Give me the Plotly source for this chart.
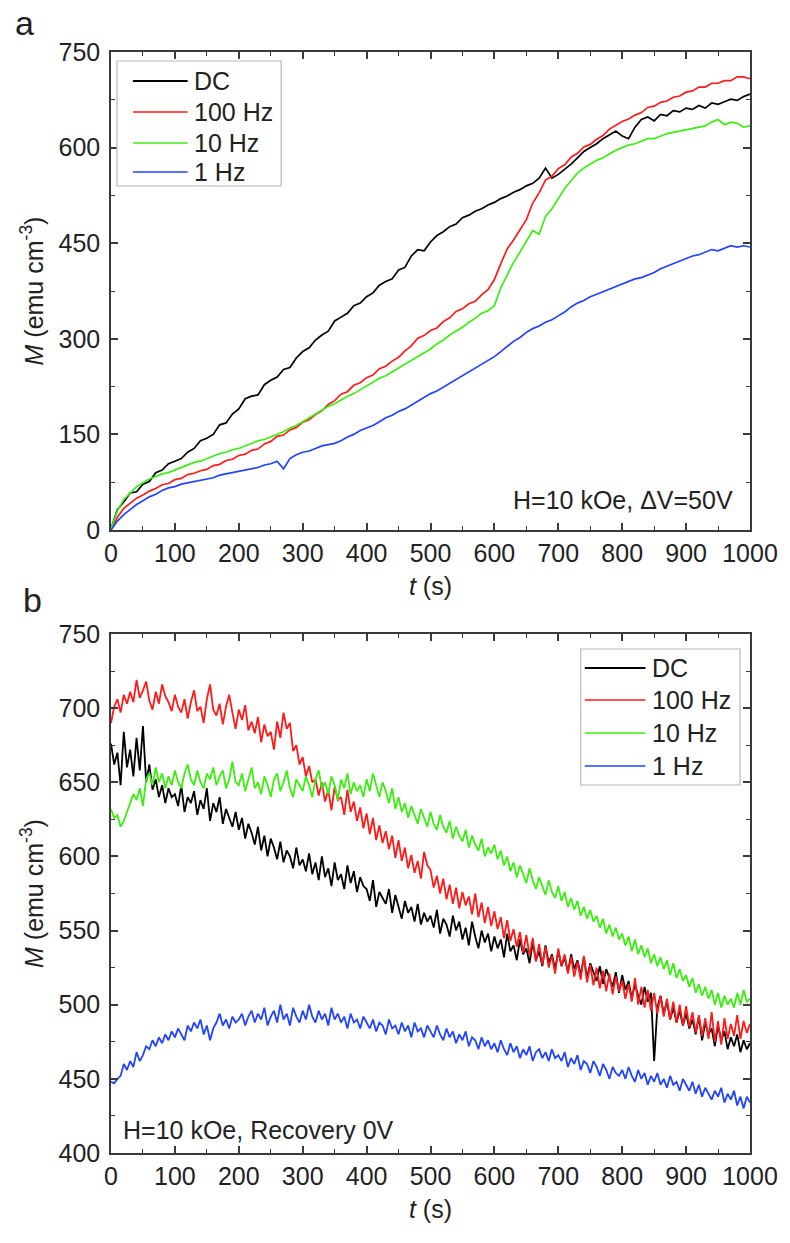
import plotly.graph_objects as go

# ---------------- data ----------------
series_names = ["DC", "100 Hz", "10 Hz", "1 Hz"]

# (a) charging under H = 10 kOe, dV = 50 V, sampled every 10 s
t_a = list(range(0, 1001, 10))
m_a_dc = [
    2, 32, 44, 58, 60, 72, 76, 90, 94, 104,
    108, 112, 122, 128, 140, 144, 150, 165, 168, 182,
    190, 206, 210, 212, 228, 235, 240, 252, 255, 270,
    280, 286, 298, 306, 312, 328, 334, 340, 352, 356,
    366, 372, 384, 390, 394, 408, 412, 430, 440, 438,
    452, 462, 468, 476, 480, 490, 494, 500, 504, 510,
    514, 520, 524, 530, 534, 540, 544, 552, 568, 552,
    558, 566, 574, 584, 594, 600, 606, 614, 620, 626,
    618, 614, 632, 644, 648, 642, 652, 650, 658, 656,
    662, 660, 666, 662, 670, 668, 672, 676, 674, 680,
    684,
]
m_a_100hz = [
    0, 20, 34, 42, 50, 55, 61, 65, 71, 73,
    79, 81, 87, 89, 93, 95, 101, 103, 109, 111,
    117, 119, 125, 127, 135, 139, 147, 149, 157, 161,
    169, 173, 181, 187, 197, 203, 213, 217, 227, 231,
    239, 243, 253, 257, 265, 271, 281, 289, 301, 305,
    313, 317, 327, 333, 343, 347, 355, 359, 369, 377,
    393, 418, 441, 455, 471, 487, 513, 529, 549, 555,
    567, 573, 585, 591, 601, 605, 613, 619, 629, 635,
    641, 645, 651, 655, 663, 665, 671, 673, 679, 681,
    687, 689, 695, 695, 701, 701, 705, 705, 711, 711,
    708,
]
m_a_10hz = [
    2, 30, 48, 58, 68, 74, 80, 84, 88, 90,
    94, 98, 102, 106, 108, 112, 116, 120, 122, 126,
    128, 132, 136, 140, 142, 146, 150, 154, 160, 164,
    170, 176, 182, 188, 194, 198, 204, 210, 214, 220,
    226, 232, 238, 242, 248, 254, 260, 266, 272, 278,
    284, 292, 298, 306, 312, 318, 326, 332, 340, 344,
    352, 380, 400, 420, 436, 452, 470, 464, 492, 504,
    520, 536, 548, 560, 568, 574, 580, 584, 590, 596,
    600, 604, 606, 610, 614, 614, 618, 622, 624, 626,
    628, 630, 632, 634, 640, 644, 636, 640, 638, 632,
    634,
]
m_a_1hz = [
    0, 14, 24, 32, 40, 46, 52, 56, 62, 66,
    68, 72, 74, 76, 78, 80, 82, 86, 88, 90,
    92, 94, 96, 98, 102, 104, 108, 96, 112, 118,
    122, 124, 128, 132, 134, 136, 140, 146, 150, 156,
    160, 164, 170, 176, 180, 186, 190, 196, 202, 208,
    214, 218, 224, 230, 236, 242, 248, 254, 260, 266,
    272, 280, 288, 296, 302, 310, 316, 320, 326, 330,
    336, 342, 350, 356, 360, 366, 370, 374, 378, 382,
    386, 390, 394, 396, 400, 404, 410, 414, 418, 422,
    426, 430, 432, 436, 440, 438, 442, 446, 444, 446,
    444,
]

# (b) recovery at 0 V, sampled every 5 s
t_b = list(range(0, 1001, 5))
m_b_dc = [
    676, 662, 670, 648, 684, 660, 672, 654, 680, 658, 688, 650, 662, 645, 652, 640, 648, 636, 646, 640,
    642, 634, 648, 630, 640, 636, 644, 628, 638, 632, 646, 624, 636, 630, 640, 622, 632, 626, 620, 630,
    618, 626, 612, 622, 616, 608, 620, 604, 614, 600, 612, 606, 598, 610, 596, 604, 600, 592, 606, 594,
    598, 590, 602, 588, 596, 584, 600, 586, 592, 580, 596, 584, 588, 578, 594, 582, 590, 576, 586, 580,
    578, 570, 584, 566, 576, 572, 568, 578, 562, 574, 566, 558, 570, 562, 566, 556, 568, 554, 562, 556,
    560, 552, 564, 548, 558, 554, 546, 560, 550, 556, 544, 552, 540, 556, 546, 538, 550, 542, 548, 536,
    546, 538, 544, 532, 548, 536, 540, 530, 544, 534, 538, 528, 542, 530, 536, 526, 540, 528, 534, 524,
    536, 526, 532, 522, 534, 524, 530, 520, 532, 518, 528, 522, 516, 526, 514, 524, 518, 512, 522, 508,
    520, 510, 516, 504, 514, 506, 500, 512, 502, 508, 462, 498, 506, 494, 502, 490, 498, 488, 496, 486,
    494, 484, 490, 480, 492, 476, 488, 480, 484, 472, 486, 476, 482, 470, 478, 472, 480, 468, 476, 470,
    474,
]
m_b_100hz = [
    690, 701, 706, 697, 709, 703, 711, 704, 719, 707, 712, 718, 705, 699, 711, 703, 716, 708, 704, 698,
    709, 701, 697, 706, 693, 704, 712, 698, 701, 690, 706, 716, 699, 695, 703, 689, 701, 709, 697, 686,
    699, 692, 702, 685, 691, 683, 694, 677, 689, 681, 684, 672, 691, 680, 697, 686, 690, 671, 675, 662,
    667, 654, 661, 650, 652, 641, 650, 637, 645, 631, 647, 638, 640, 628, 645, 630, 637, 624, 633, 619,
    629, 615, 626, 611, 621, 609, 617, 605, 614, 599, 611, 597, 606, 592, 601, 589, 597, 585, 603, 594,
    591, 579, 587, 575, 585, 571, 581, 568, 579, 565, 576, 567, 573, 561, 575, 559, 569, 555, 566, 553,
    563, 551, 559, 545, 557, 543, 551, 539, 549, 535, 547, 533, 545, 529, 541, 527, 539, 525, 533, 521,
    538, 526, 534, 521, 532, 519, 529, 517, 533, 515, 527, 513, 525, 511, 523, 509, 521, 507, 519, 509,
    516, 504, 514, 502, 518, 500, 512, 498, 510, 496, 508, 494, 506, 492, 504, 490, 502, 488, 500, 486,
    499, 485, 495, 481, 493, 479, 491, 477, 495, 475, 489, 473, 491, 477, 487, 479, 493, 477, 489, 481,
    487,
]
m_b_10hz = [
    632, 626, 628, 620, 624, 630, 636, 642, 638, 646, 634, 652, 656, 648, 660, 650, 656, 646, 654, 648,
    658, 650, 646, 656, 662, 652, 648, 658, 650, 646, 656, 652, 660, 648, 654, 658, 646, 652, 664, 650,
    648, 656, 644, 652, 660, 646, 650, 642, 654, 648, 640, 652, 656, 644, 650, 658, 646, 640, 652, 648,
    644, 654, 648, 640, 652, 658, 646, 650, 642, 654, 648, 638, 652, 646, 656, 642, 650, 644, 648, 640,
    652, 644, 656, 648, 640, 650, 644, 636, 646, 632, 640, 630, 636, 626, 634, 628, 622, 632, 626, 620,
    630, 622, 618, 628, 620, 616, 624, 612, 620, 614, 610, 618, 606, 614, 608, 604, 612, 600, 606, 602,
    608, 598, 604, 594, 600, 590, 596, 586, 594, 588, 582, 592, 584, 578, 586, 580, 574, 584, 576, 572,
    580, 570, 576, 566, 572, 564, 570, 560, 566, 558, 564, 556, 560, 552, 558, 548, 554, 546, 552, 544,
    548, 540, 546, 536, 544, 534, 540, 532, 538, 528, 534, 526, 532, 524, 530, 520, 528, 518, 524, 516,
    520, 512, 518, 508, 514, 506, 512, 504, 510, 500, 508, 498, 506, 500, 504, 498, 508, 500, 510, 502,
    504,
]
m_b_1hz = [
    448, 447, 450, 452, 460, 456, 462, 458, 468, 462, 466, 472, 470, 476, 472, 478, 474, 480, 476, 482,
    478, 484, 480, 476, 486, 482, 488, 484, 490, 480, 486, 476, 484, 488, 494, 486, 490, 484, 492, 488,
    490, 494, 486, 492, 496, 488, 494, 490, 498, 486, 492, 496, 488, 500, 490, 494, 486, 498, 492, 488,
    496, 490, 500, 492, 488, 496, 490, 494, 486, 498, 490, 494, 488, 492, 484, 494, 488, 490, 484, 492,
    488, 484, 490, 482, 488, 486, 480, 490, 484, 486, 480, 488, 482, 486, 478, 488, 482, 484, 478, 486,
    482, 478, 486, 480, 476, 484, 478, 482, 474, 480, 476, 482, 472, 478, 476, 470, 478, 472, 476, 470,
    474, 468, 476, 470, 466, 474, 468, 472, 464, 470, 466, 472, 462, 468, 470, 464, 468, 462, 470, 464,
    466, 462, 468, 458, 464, 460, 466, 456, 462, 460, 454, 462, 458, 452, 460, 456, 450, 458, 454, 452,
    456, 450, 458, 452, 448, 456, 450, 454, 446, 452, 448, 454, 446, 450, 444, 452, 446, 448, 442, 450,
    446, 442, 448, 440, 446, 438, 444, 440, 436, 442, 438, 444, 434, 440, 436, 442, 432, 438, 430, 438,
    434,
]

# ---------------- styling ----------------
W, H = 790, 1243
ML, MR, MT, MB = 111, 37, 52, 90
FONT = "Liberation Sans, Arial, sans-serif"
FS = 25
AX = "#3a3a3a"
colors = ["#000000", "#ff1a1a", "#3cee10", "#2244ff"]


def px(x):
    return (x - ML) / (W - ML - MR)


def py(y):
    return (H - MB - y) / (H - MT - MB)


fig = go.Figure()

panel_a = [m_a_dc, m_a_100hz, m_a_10hz, m_a_1hz]
panel_b = [m_b_dc, m_b_100hz, m_b_10hz, m_b_1hz]
for name, col, ys in zip(series_names, colors, panel_a):
    fig.add_trace(go.Scatter(x=t_a, y=ys, mode="lines", name=name,
                             line=dict(color=col, width=1.7),
                             xaxis="x", yaxis="y", showlegend=False))
for name, col, ys in zip(series_names, colors, panel_b):
    fig.add_trace(go.Scatter(x=t_b, y=ys, mode="lines", name=name,
                             line=dict(color=col, width=1.8),
                             xaxis="x2", yaxis="y2", showlegend=False))


def axis(**kw):
    base = dict(showline=True, linecolor=AX, linewidth=1.5, mirror="allticks",
                ticks="inside", ticklen=7, tickwidth=1.5, tickcolor=AX,
                showgrid=False, zeroline=False,
                tickfont=dict(size=FS, color="#222", family=FONT))
    base.update(kw)
    return base


xtitle = dict(text="<i>t</i> (s)", font=dict(size=FS, color="#222", family=FONT), standoff=12)
ytitle = dict(text="<i>M</i> (emu cm<sup>-3</sup>)", font=dict(size=FS, color="#222", family=FONT), standoff=8)

fig.update_layout(
    width=W, height=H,
    margin=dict(l=ML, r=MR, t=MT, b=MB),
    paper_bgcolor="white", plot_bgcolor="white",
    font=dict(family=FONT, size=FS, color="#222"),
    xaxis=axis(domain=[0, 1], range=[0, 1000], dtick=100, anchor="y",
               minor=dict(dtick=50, ticks="inside", ticklen=4, tickwidth=1.2, tickcolor=AX),
               title=xtitle),
    yaxis=axis(domain=[py(530), 1], range=[0, 750], dtick=150, anchor="x",
               ticklabelstandoff=4,
               minor=dict(dtick=75, ticks="inside", ticklen=4, tickwidth=1.2, tickcolor=AX),
               title=ytitle),
    xaxis2=axis(domain=[0, 1], range=[0, 1000], dtick=100, anchor="y2",
                minor=dict(dtick=50, ticks="inside", ticklen=4, tickwidth=1.2, tickcolor=AX),
                title=xtitle),
    yaxis2=axis(domain=[0, py(634)], range=[400, 750], dtick=50, anchor="x2",
                ticklabelstandoff=4,
                minor=dict(dtick=25, ticks="inside", ticklen=4, tickwidth=1.2, tickcolor=AX),
                title=ytitle),
)

shapes = []
annotations = []


def add_legend(box, line_x, text_x, rows_y):
    x0, y0, x1, y1 = box
    shapes.append(dict(type="rect", xref="paper", yref="paper",
                       x0=px(x0), x1=px(x1), y0=py(y1), y1=py(y0),
                       line=dict(color="#b8b8b8", width=1.2), fillcolor="white", layer="above"))
    for name, col, ry in zip(series_names, colors, rows_y):
        shapes.append(dict(type="line", xref="paper", yref="paper",
                           x0=px(line_x[0]), x1=px(line_x[1]), y0=py(ry), y1=py(ry),
                           line=dict(color=col, width=2.2 if name == "DC" else 1.6), layer="above"))
        annotations.append(dict(text=name, xref="paper", yref="paper",
                                x=px(text_x), y=py(ry), xanchor="left", yanchor="middle",
                                showarrow=False, font=dict(size=FS, color="#222", family=FONT)))


add_legend((117, 61, 282, 186), (133, 188), 192, (81, 112, 143, 172))
add_legend((583, 649, 743, 785), (587, 648), 653, (668, 700, 733, 766))

annotations.append(dict(text="H=10 kOe, ΔV=50V", xref="paper", yref="paper",
                        x=px(738), y=py(500), xanchor="right", yanchor="middle",
                        showarrow=False, font=dict(size=FS, color="#222", family=FONT)))
annotations.append(dict(text="H=10 kOe, Recovery 0V", xref="paper", yref="paper",
                        x=px(121), y=py(1130), xanchor="left", yanchor="middle",
                        showarrow=False, font=dict(size=FS, color="#222", family=FONT)))

annotations.append(dict(text="a", xref="paper", yref="paper", x=px(24), y=py(2),
                        xanchor="center", yanchor="top", showarrow=False,
                        font=dict(size=34, color="#222", family=FONT)))
annotations.append(dict(text="b", xref="paper", yref="paper", x=px(32), y=py(600),
                        xanchor="center", yanchor="middle", showarrow=False,
                        font=dict(size=34, color="#222", family=FONT)))

fig.update_layout(shapes=shapes, annotations=annotations)

fig.write_html("out.html")
